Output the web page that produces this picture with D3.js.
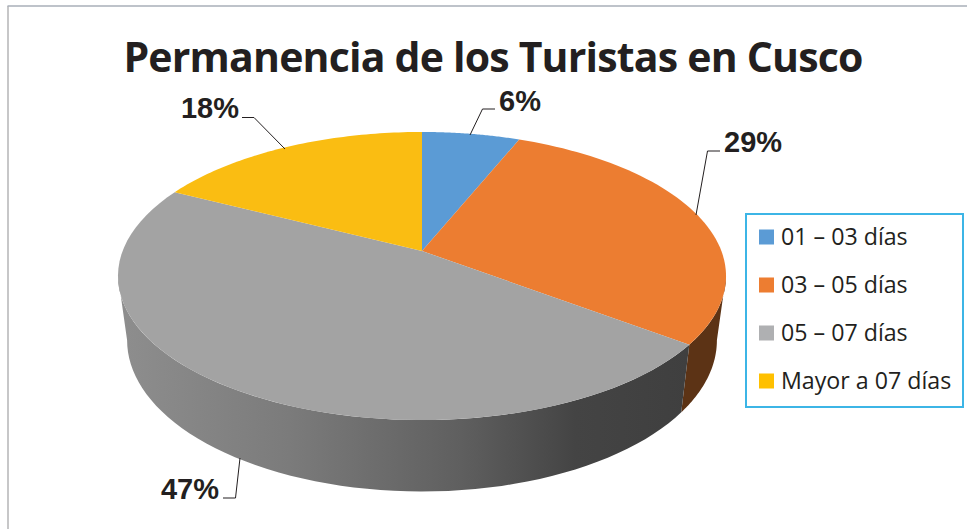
<!DOCTYPE html>
<html><head><meta charset="utf-8">
<script src="https://cdn.jsdelivr.net/npm/d3@7"></script>
<style>html,body{margin:0;padding:0;background:#fff}svg{display:block}</style>
</head><body><svg id="c" width="967" height="529"></svg>
<script>
const categories = ["01 – 03 días","03 – 05 días","05 – 07 días","Mayor a 07 días"];
const values = [6.15,29.1,47.25,17.5];
const labels = ["6%","29%","47%","18%"];
const colors = ["#5b9bd5","#ec7d31","#a3a3a3","#fabd12"];
const legendColors = ["#5b9bd5","#ed7d31","#afb0b2","#ffc000"];

const svg = d3.select("#c");
const F = "'Open Sans',sans-serif", FL = "'Liberation Sans',Arial,sans-serif", INK = "#231f20";
const cx=422, cy=251, A=299.4, K=139.7, P=-0.1736;
const top3 = a => { const u=Math.sin(a), v=-Math.cos(a), d=1+P*v; return [cx+A*u/d, cy+K*v/d]; };
const low3 = a => { const [x,y]=top3(a); return [cx+(x-cx)*0.97, cy+63+(y-cy)*1.05]; };
const range = (a,b,f) => d3.range(0,61).map(i=>f(a+(b-a)*i/60));
const line = d3.line();
const arcs = d3.pie().sort(null)(values);
const rad = d => d*Math.PI/180;

// frame
svg.append("path").attr("d","M8,529V6").attr("fill","none").attr("stroke","#b4b4b6").attr("stroke-width",1.5);
svg.append("path").attr("d","M7.5,6H967").attr("fill","none").attr("stroke","#a9afb8").attr("stroke-width",1.3);

// gradient for side wall
const g = svg.append("defs").append("linearGradient").attr("id","wall")
  .attr("gradientUnits","userSpaceOnUse").attr("x1",118).attr("x2",690).attr("y1",0).attr("y2",0);
[[0,"#8e8e8e"],[0.3,"#7b7b7b"],[0.6,"#5f5f5f"],[0.8,"#444"],[1,"#3f3f3f"]].forEach(s=>g.append("stop").attr("offset",s[0]).attr("stop-color",s[1]));

// walls
const wall=(a,b,fill)=>svg.append("path").attr("d",line(range(a,b,top3).concat(range(b,a,low3)))+"Z").attr("fill",fill);
wall(rad(100),arcs[1].endAngle,"#5c3315");
wall(arcs[1].endAngle,rad(260),"url(#wall)");

// top slices
arcs.forEach((d,i)=>{
  svg.append("path").attr("d",line([[cx,cy]].concat(range(d.startAngle,d.endAngle,top3)))+"Z").attr("fill",colors[i]);
});

// title
svg.append("text").attr("x",493).attr("y",72).attr("text-anchor","middle").attr("font-family",F).attr("font-weight",700).attr("font-size",41).attr("letter-spacing",-0.8).attr("fill",INK).text("Permanencia de los Turistas en Cusco");

// leaders + labels
const leaders=[[[470,135],[482.5,109],[495,109]],[[696,215],[707.5,151],[720,151]],[[240,458],[235.5,498],[223,498]],[[285,149],[254,117.5],[242,117.5]]];
const lpos=[[499,111,"start"],[724,152,"start"],[219,499,"end"],[239,118,"end"]];
labels.forEach((t,i)=>{
  svg.append("path").attr("d",line(leaders[i])).attr("fill","none").attr("stroke",INK).attr("stroke-width",1);
  svg.append("text").attr("x",lpos[i][0]).attr("y",lpos[i][1]).attr("text-anchor",lpos[i][2]).attr("font-family",FL).attr("font-weight",700).attr("font-size",29).attr("fill",INK).text(t);
});

// legend
svg.append("rect").attr("x",746).attr("y",214).attr("width",217).attr("height",193).attr("fill","#fff").attr("stroke","#3cb5e6").attr("stroke-width",2);
const ly=d3.scalePoint().domain(categories).range([237,381]);
categories.forEach((c,i)=>{
  svg.append("rect").attr("x",759).attr("y",ly(c)-7.5).attr("width",15).attr("height",15).attr("fill",legendColors[i]);
  svg.append("text").attr("x",781).attr("y",ly(c)+8).attr("font-family",F).attr("font-size",23.2).attr("fill",INK).text(c);
});
</script></body></html>
